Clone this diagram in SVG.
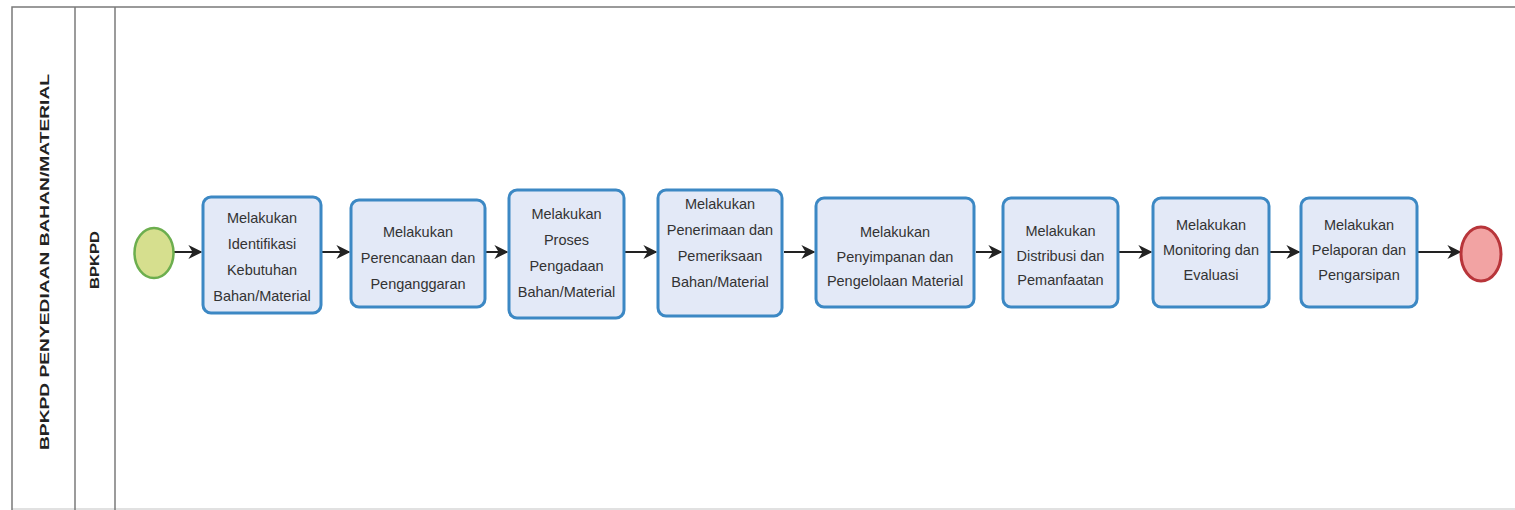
<svg xmlns="http://www.w3.org/2000/svg" width="1515" height="510" viewBox="0 0 1515 510">
<defs>
<style>
.lane{fill:none;stroke:#7a7a7a;stroke-width:1.5}
.task{fill:#e3e9f7;stroke:#3c88c4;stroke-width:3}
.tx{font-family:"Liberation Sans",Arial,sans-serif;font-size:14.5px;fill:#333;text-anchor:middle}
.lbl{font-family:"Liberation Sans",Arial,sans-serif;font-weight:bold;font-size:13px;fill:#222;text-anchor:middle}
.cn{fill:none;stroke:#222;stroke-width:2}
</style>
<marker id="ah" viewBox="0 0 10 10" refX="9" refY="5" markerWidth="7" markerHeight="7" orient="auto" markerUnits="strokeWidth">
<path d="M0,0 L10,5 L0,10 L3,5 z" fill="#222"/>
</marker>
</defs>
<rect width="1515" height="510" fill="#ffffff"/>
<g id="pool">
<path class="lane" d="M1515,7 L12,7 L12,510"/>
<line class="lane" x1="75" y1="7" x2="75" y2="510"/>
<line class="lane" x1="115" y1="7" x2="115" y2="510"/>
<line class="lane" x1="12" y1="509" x2="1515" y2="509" stroke-opacity="0.3"/>
<text class="lbl" transform="translate(49,262) rotate(-90)" textLength="376" lengthAdjust="spacingAndGlyphs">BPKPD PENYEDIAAN BAHAN/MATERIAL</text>
<text class="lbl" transform="translate(99,260) rotate(-90)" textLength="58" lengthAdjust="spacingAndGlyphs">BPKPD</text>
</g>
<g id="connectors">
<line class="cn" x1="174" y1="252" x2="201" y2="252" marker-end="url(#ah)"/>
<line class="cn" x1="322" y1="252" x2="349" y2="252" marker-end="url(#ah)"/>
<line class="cn" x1="486" y1="252" x2="507" y2="252" marker-end="url(#ah)"/>
<line class="cn" x1="625" y1="252" x2="656" y2="252" marker-end="url(#ah)"/>
<line class="cn" x1="784" y1="252" x2="814" y2="252" marker-end="url(#ah)"/>
<line class="cn" x1="976" y1="252" x2="1001" y2="252" marker-end="url(#ah)"/>
<line class="cn" x1="1119" y1="252" x2="1151" y2="252" marker-end="url(#ah)"/>
<line class="cn" x1="1270" y1="252" x2="1299" y2="252" marker-end="url(#ah)"/>
<line class="cn" x1="1418" y1="252" x2="1460" y2="252" marker-end="url(#ah)"/>
</g>
<g id="start">
<ellipse cx="154" cy="253" rx="19.5" ry="25" fill="#d6df8e" stroke="#6cae4e" stroke-width="2.5"/>
</g>
<g id="n1">
<rect class="task" x="203" y="197" width="118" height="116" rx="8"/>
<text class="tx"><tspan x="262" y="223">Melakukan</tspan><tspan x="262" y="249">Identifikasi</tspan><tspan x="262" y="275">Kebutuhan</tspan><tspan x="262" y="301">Bahan/Material</tspan></text>
</g>
<g id="n2">
<rect class="task" x="351" y="200" width="134" height="107" rx="8"/>
<text class="tx"><tspan x="418" y="237">Melakukan</tspan><tspan x="418" y="263">Perencanaan dan</tspan><tspan x="418" y="289">Penganggaran</tspan></text>
</g>
<g id="n3">
<rect class="task" x="509" y="190" width="115" height="128" rx="8"/>
<text class="tx"><tspan x="566.5" y="219">Melakukan</tspan><tspan x="566.5" y="245">Proses</tspan><tspan x="566.5" y="271">Pengadaan</tspan><tspan x="566.5" y="297">Bahan/Material</tspan></text>
</g>
<g id="n4">
<rect class="task" x="658" y="190" width="124" height="126" rx="8"/>
<text class="tx"><tspan x="720" y="209">Melakukan</tspan><tspan x="720" y="235">Penerimaan dan</tspan><tspan x="720" y="261">Pemeriksaan</tspan><tspan x="720" y="287">Bahan/Material</tspan></text>
</g>
<g id="n5">
<rect class="task" x="816" y="198" width="158" height="109" rx="8"/>
<text class="tx"><tspan x="895" y="237">Melakukan</tspan><tspan x="895" y="262">Penyimpanan dan</tspan><tspan x="895" y="286">Pengelolaan Material</tspan></text>
</g>
<g id="n6">
<rect class="task" x="1003" y="198" width="115" height="109" rx="8"/>
<text class="tx"><tspan x="1060.5" y="236">Melakukan</tspan><tspan x="1060.5" y="261">Distribusi dan</tspan><tspan x="1060.5" y="285">Pemanfaatan</tspan></text>
</g>
<g id="n7">
<rect class="task" x="1153" y="198" width="116" height="109" rx="8"/>
<text class="tx"><tspan x="1211" y="230">Melakukan</tspan><tspan x="1211" y="255">Monitoring dan</tspan><tspan x="1211" y="280">Evaluasi</tspan></text>
</g>
<g id="n8">
<rect class="task" x="1301" y="198" width="116" height="109" rx="8"/>
<text class="tx"><tspan x="1359" y="230">Melakukan</tspan><tspan x="1359" y="255">Pelaporan dan</tspan><tspan x="1359" y="280">Pengarsipan</tspan></text>
</g>
<g id="end">
<ellipse cx="1481" cy="254" rx="20" ry="27" fill="#f2a3a3" stroke="#b8353a" stroke-width="3"/>
</g>
</svg>
